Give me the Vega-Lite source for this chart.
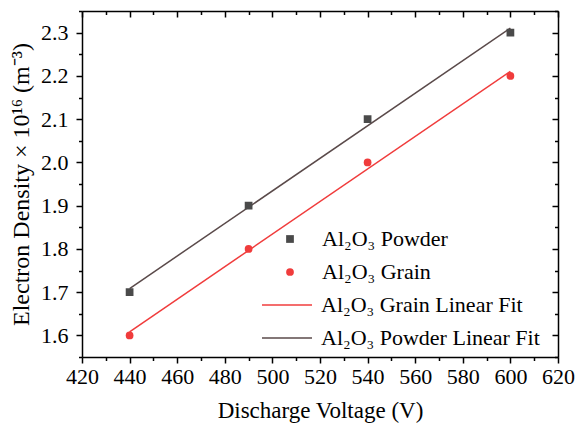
{
  "$schema": "https://vega.github.io/schema/vega-lite/v6.json",
  "width": 476,
  "height": 346,
  "autosize": {"type": "none"},
  "padding": {"left": 82, "top": 11, "right": 18, "bottom": 72},
  "background": "white",
  "config": {
    "view": {"stroke": null},
    "font": "Liberation Serif",
    "axis": {
      "grid": false,
      "domainColor": "black",
      "domainWidth": 1.5,
      "tickColor": "black",
      "tickWidth": 1.5,
      "labelFont": "Liberation Serif",
      "labelFontSize": 22,
      "labelColor": "black",
      "labelOverlap": false,
      "labelFlush": false,
      "titleFont": "Liberation Serif",
      "titleFontSize": 23,
      "titleFontWeight": "normal",
      "titleColor": "black"
    },
    "legend": {
      "labelFont": "Liberation Serif",
      "labelFontSize": 22,
      "labelColor": "black",
      "labelLimit": 400,
      "padding": 0
    }
  },
  "data": {
    "values": [
      {"kind": "point", "series": "Al₂O₃ Powder", "voltage": 440, "density": 1.7},
      {"kind": "point", "series": "Al₂O₃ Powder", "voltage": 490, "density": 1.9},
      {"kind": "point", "series": "Al₂O₃ Powder", "voltage": 540, "density": 2.1},
      {"kind": "point", "series": "Al₂O₃ Powder", "voltage": 600, "density": 2.3},
      {"kind": "point", "series": "Al₂O₃ Grain", "voltage": 440, "density": 1.6},
      {"kind": "point", "series": "Al₂O₃ Grain", "voltage": 490, "density": 1.8},
      {"kind": "point", "series": "Al₂O₃ Grain", "voltage": 540, "density": 2.0},
      {"kind": "point", "series": "Al₂O₃ Grain", "voltage": 600, "density": 2.2},
      {"kind": "fit", "series": "Al₂O₃ Grain Linear Fit", "voltage": 440, "density": 1.6082},
      {"kind": "fit", "series": "Al₂O₃ Grain Linear Fit", "voltage": 600, "density": 2.2106},
      {"kind": "fit", "series": "Al₂O₃ Powder Linear Fit", "voltage": 440, "density": 1.7082},
      {"kind": "fit", "series": "Al₂O₃ Powder Linear Fit", "voltage": 600, "density": 2.3106}
    ]
  },
  "resolve": {"axis": {"x": "independent", "y": "independent"}},
  "layer": [
    {
      "transform": [{"filter": "datum.kind === 'fit'"}],
      "mark": {"type": "line", "strokeWidth": 1.5},
      "encoding": {
        "x": {
          "field": "voltage", "type": "quantitative",
          "scale": {"domain": [420, 620], "nice": false, "zero": false},
          "axis": {
            "orient": "top", "title": null, "labels": false,
            "values": [420,430,440,450,460,470,480,490,500,510,520,530,540,550,560,570,580,590,600,610,620],
            "tickSize": {"condition": {"test": "datum.value % 20 === 0", "value": -6}, "value": -3.5}
          }
        },
        "y": {
          "field": "density", "type": "quantitative",
          "scale": {"domain": [1.55, 2.35], "nice": false, "zero": false},
          "axis": {
            "orient": "right", "title": null, "labels": false,
            "values": [1.55,1.6,1.65,1.7,1.75,1.8,1.85,1.9,1.95,2.0,2.05,2.1,2.15,2.2,2.25,2.3,2.35],
            "tickSize": {"condition": {"test": "round(datum.value * 100) % 10 === 0", "value": -6}, "value": -3.5}
          }
        },
        "stroke": {
          "field": "series", "type": "nominal",
          "scale": {
            "domain": ["Al₂O₃ Grain Linear Fit", "Al₂O₃ Powder Linear Fit"],
            "range": ["#f03c3c", "#5a4a4a"]
          },
          "legend": {
            "title": null,
            "orient": "none",
            "legendX": 194,
            "legendY": 283,
            "symbolType": "M-5,0H5",
            "symbolSize": 100,
            "symbolStrokeWidth": 1.5,
            "rowPadding": 11,
            "labelOffset": 23
          }
        }
      }
    },
    {
      "transform": [{"filter": "datum.kind === 'point'"}],
      "mark": {"type": "point", "filled": true, "opacity": 1, "size": 60},
      "encoding": {
        "x": {
          "field": "voltage", "type": "quantitative",
          "axis": {
            "orient": "bottom", "title": "Discharge Voltage (V)",
            "values": [420,430,440,450,460,470,480,490,500,510,520,530,540,550,560,570,580,590,600,610,620],
            "labelExpr": "datum.value % 20 === 0 ? datum.label : ''",
            "tickSize": {"condition": {"test": "datum.value % 20 === 0", "value": 6}, "value": 3.5},
            "labelPadding": 3,
            "titlePadding": 12
          }
        },
        "y": {
          "field": "density", "type": "quantitative",
          "axis": {
            "orient": "left", "title": "Electron Density × 10¹⁶ (m⁻³)",
            "titleFontSize": 24,
            "values": [1.55,1.6,1.65,1.7,1.75,1.8,1.85,1.9,1.95,2.0,2.05,2.1,2.15,2.2,2.25,2.3,2.35],
            "format": ".1f",
            "labelExpr": "round(datum.value * 100) % 10 === 0 ? datum.label : ''",
            "tickSize": {"condition": {"test": "round(datum.value * 100) % 10 === 0", "value": 6}, "value": 3.5},
            "labelPadding": 8,
            "titlePadding": 7
          }
        },
        "color": {
          "field": "series", "type": "nominal",
          "scale": {
            "domain": ["Al₂O₃ Powder", "Al₂O₃ Grain"],
            "range": ["#4a4a4a", "#f03c3c"]
          },
          "legend": {
            "title": null,
            "orient": "none",
            "legendX": 197,
            "legendY": 217,
            "symbolSize": 60,
            "rowPadding": 11,
            "labelOffset": 21
          }
        },
        "shape": {
          "field": "series", "type": "nominal",
          "scale": {
            "domain": ["Al₂O₃ Powder", "Al₂O₃ Grain"],
            "range": ["square", "circle"]
          },
          "legend": null
        }
      }
    }
  ]
}
